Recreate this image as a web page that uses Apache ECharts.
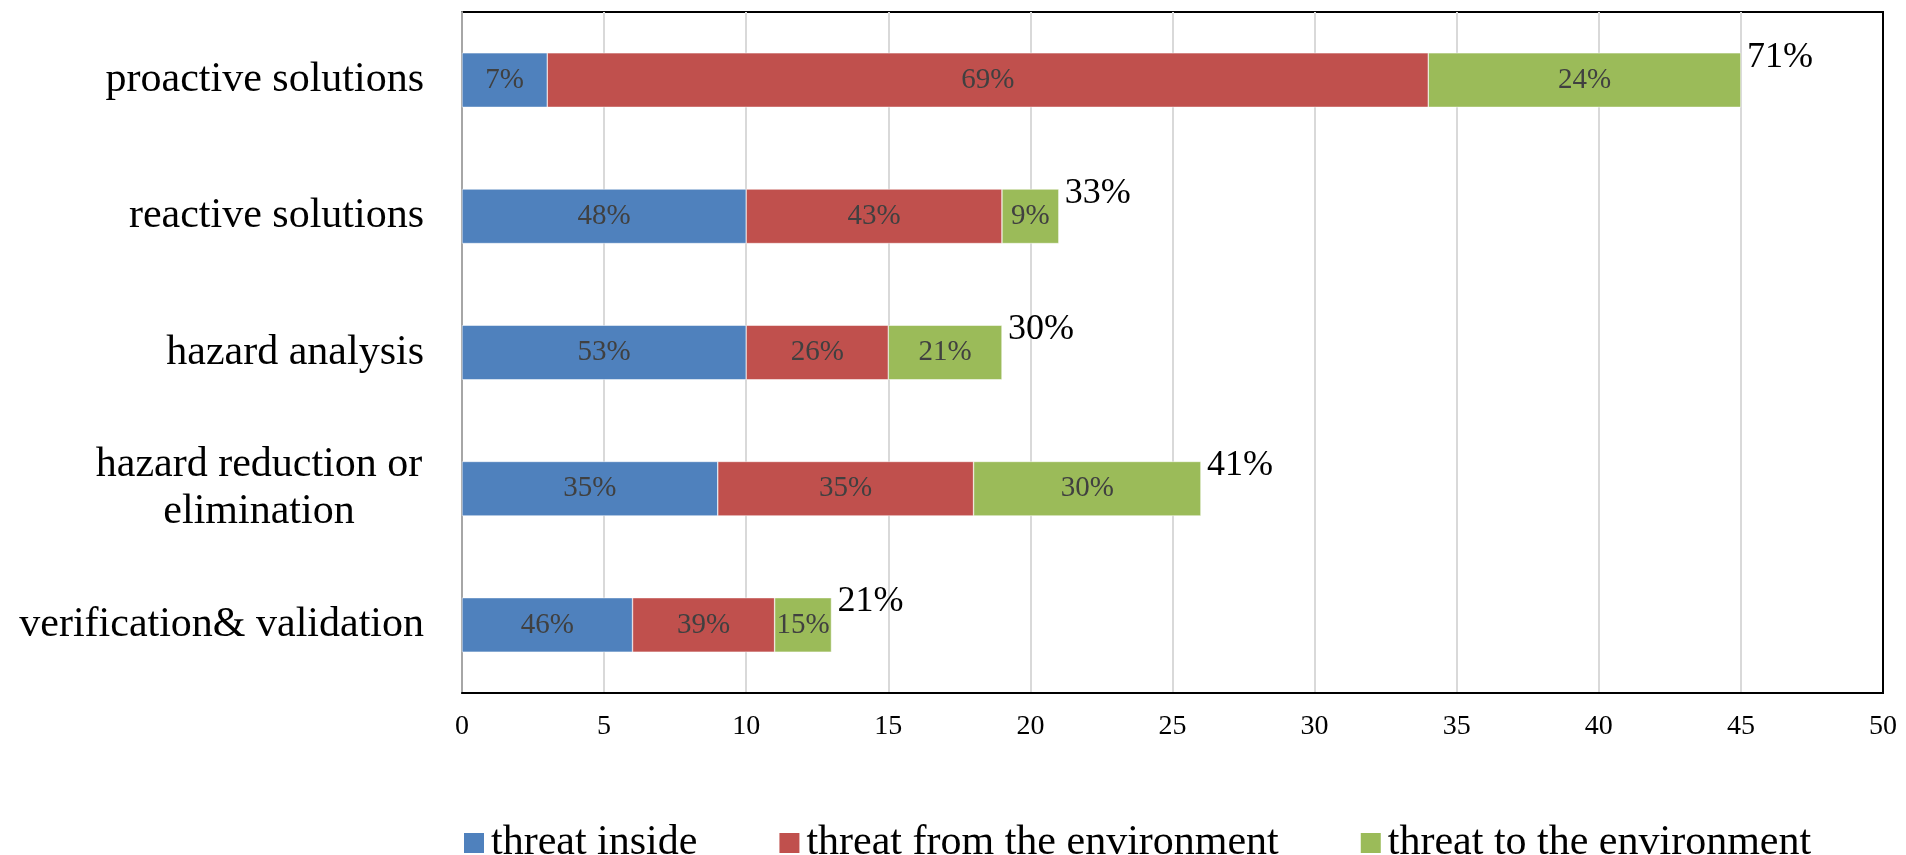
<!DOCTYPE html>
<html>
<head>
<meta charset="utf-8">
<script src="https://cdn.jsdelivr.net/npm/echarts@6/dist/echarts.min.js"></script>
<style>
  html, body { margin: 0; padding: 0; background: #fff; }
  #chart { width: 1906px; height: 855px; }
</style>
</head>
<body>
<div id="chart"></div>
<script>
var categories = ['proactive solutions', 'reactive solutions', 'hazard analysis', 'hazard reduction or\nelimination', 'verification& validation'];
var seriesNames = ['threat inside', 'threat from the environment', 'threat to the environment'];

// counts per category
var inside = [3, 10, 10, 9, 6];
var fromEnv = [31, 9, 5, 9, 5];
var toEnv = [11, 2, 4, 8, 2];

// labels printed in the segments and after the bars
var insideShare = ['7%', '48%', '53%', '35%', '46%'];
var fromEnvShare = ['69%', '43%', '26%', '35%', '39%'];
var toEnvShare = ['24%', '9%', '21%', '30%', '15%'];
var totalShare = ['71%', '33%', '30%', '41%', '21%'];

var xTicks = { min: 0, max: 50, interval: 5 };

var serif = "'Liberation Serif', 'Times New Roman', serif";
var colors = ['#4F81BD', '#C0504D', '#9BBB59'];

function segLabel(arr) {
    return {
        show: true,
        position: 'inside',
        fontFamily: serif,
        fontSize: 29,
        color: '#404040',
        formatter: function (p) { return arr[p.dataIndex]; }
    };
}

myChart = echarts.init(document.getElementById('chart'));
option = {
    animation: false,
    color: colors,
    grid: {
        left: 462,
        right: 23,
        top: 12,
        bottom: 162,
        show: true,
        borderColor: '#000',
        borderWidth: 2
    },
    legend: {
        data: seriesNames,
        left: 457,
        top: 817,
        itemWidth: 22,
        itemHeight: 22,
        itemGap: 80,
        icon: 'rect',
        textStyle: { fontFamily: serif, fontSize: 42, color: '#000', padding: [0, 0, 0, 1] }
    },
    xAxis: {
        type: 'value',
        min: xTicks.min,
        max: xTicks.max,
        interval: xTicks.interval,
        axisLine: { show: true, lineStyle: { color: '#000', width: 2 } },
        axisTick: { show: false },
        axisLabel: { fontFamily: serif, fontSize: 28, color: '#000', margin: 20 },
        splitLine: { show: true, showMinLine: false, showMaxLine: false, lineStyle: { color: '#D9D9D9', width: 2 } }
    },
    yAxis: {
        type: 'category',
        data: categories,
        inverse: true,
        axisLine: { show: true, lineStyle: { color: '#A6A6A6', width: 2 } },
        axisTick: { show: false },
        splitLine: { show: false },
        axisLabel: {
            fontFamily: serif,
            fontSize: 42,
            color: '#000',
            margin: 38,
            lineHeight: 47,
            formatter: function (v) {
                if (v.indexOf('\n') < 0) return v;
                return v.split('\n').map(function (s) { return '{c|' + s + '}'; }).join('\n');
            },
            rich: {
                c: { width: 330, align: 'center', fontFamily: serif, fontSize: 42, color: '#000', lineHeight: 47 }
            }
        }
    },
    series: [
        {
            name: seriesNames[0], type: 'bar', stack: 'total', barWidth: '40%',
            itemStyle: { borderColor: '#fff', borderWidth: 0.5 },
            label: segLabel(insideShare),
            data: inside
        },
        {
            name: seriesNames[1], type: 'bar', stack: 'total', barWidth: '40%',
            itemStyle: { borderColor: '#fff', borderWidth: 0.5 },
            label: segLabel(fromEnvShare),
            data: fromEnv
        },
        {
            name: seriesNames[2], type: 'bar', stack: 'total', barWidth: '40%',
            itemStyle: { borderColor: '#fff', borderWidth: 0.5 },
            label: segLabel(toEnvShare),
            data: toEnv
        },
        {
            // invisible helper series carrying the total labels at the bar end
            name: 'total', type: 'bar', stack: 'total', barWidth: '40%',
            silent: true,
            itemStyle: { color: 'transparent' },
            label: {
                show: true,
                position: 'left',
                distance: -6,
                align: 'left',
                offset: [0, -23],
                fontFamily: serif,
                fontSize: 36,
                color: '#000',
                formatter: function (p) { return totalShare[p.dataIndex]; }
            },
            data: [0, 0, 0, 0, 0]
        }
    ]
};
myChart.setOption(option);
</script>
</body>
</html>
